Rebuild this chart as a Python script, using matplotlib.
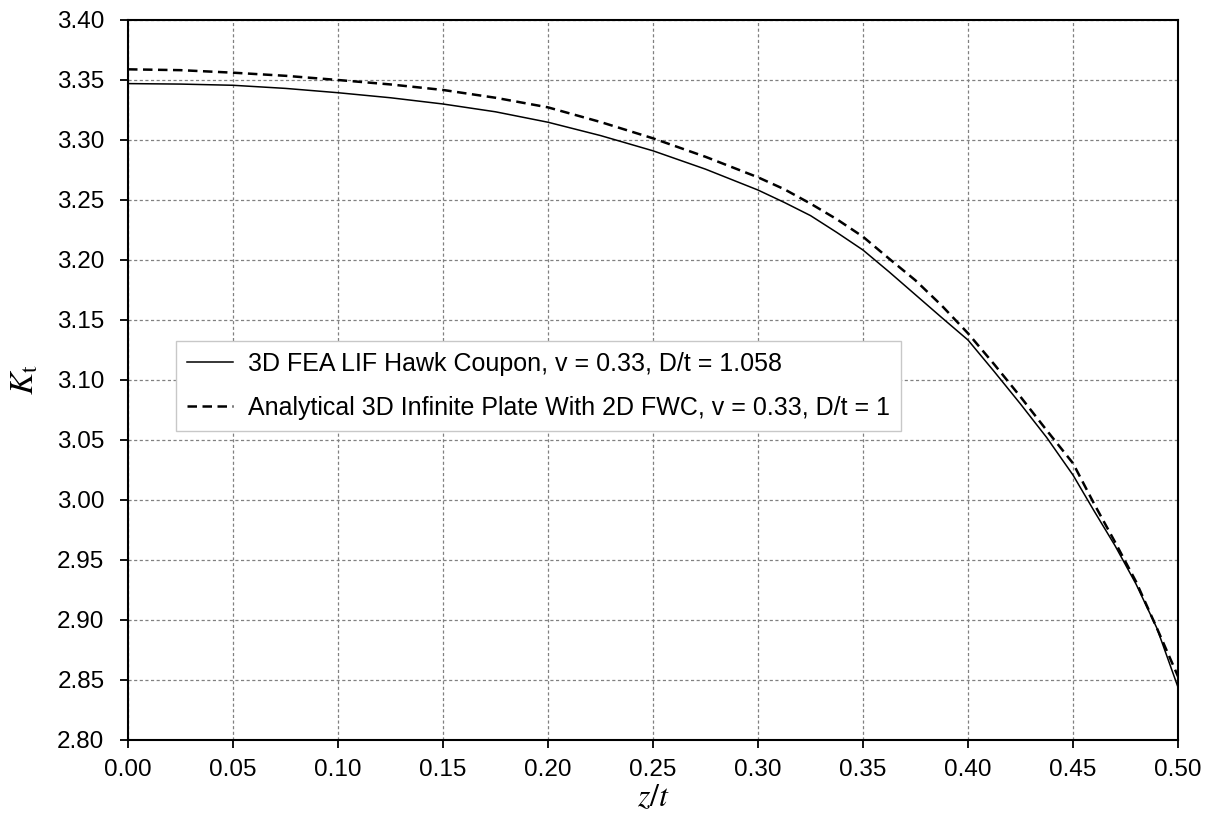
import matplotlib
matplotlib.use('Agg')
import matplotlib.pyplot as plt

plt.rcParams['font.family'] = ['Liberation Sans', 'DejaVu Sans']
plt.rcParams['mathtext.fontset'] = 'stix'

# data
z_fea = [0.0, 0.025, 0.05, 0.075, 0.10, 0.125, 0.15, 0.175, 0.20, 0.225, 0.25,
         0.275, 0.30, 0.3125, 0.325, 0.3375, 0.35, 0.3625, 0.375, 0.3875, 0.40,
         0.4125, 0.425, 0.4375, 0.45, 0.46, 0.47, 0.48, 0.49, 0.50]
kt_fea = [3.347, 3.3466, 3.3456, 3.343, 3.3394, 3.3352, 3.330, 3.3235, 3.3148,
          3.3037, 3.291, 3.2757, 3.2583, 3.248, 3.237, 3.223, 3.2083, 3.190,
          3.171, 3.152, 3.1333, 3.107, 3.080, 3.052, 3.0208, 2.991, 2.962,
          2.930, 2.893, 2.844]

z_ana = [0.0, 0.025, 0.05, 0.075, 0.10, 0.125, 0.15, 0.175, 0.20, 0.225, 0.25,
         0.275, 0.30, 0.3125, 0.325, 0.3375, 0.35, 0.3625, 0.375, 0.3875, 0.40,
         0.4125, 0.425, 0.4375, 0.45, 0.46, 0.47, 0.48, 0.49, 0.50]
kt_ana = [3.3589, 3.3582, 3.3561, 3.3535, 3.350, 3.3463, 3.3417, 3.3352, 3.3272,
          3.315, 3.3014, 3.286, 3.2689, 3.259, 3.247, 3.234, 3.2194, 3.201,
          3.183, 3.162, 3.1389, 3.113, 3.086, 3.058, 3.0306, 2.997, 2.965,
          2.932, 2.893, 2.853]

label_fea = '3D FEA LIF Hawk Coupon, v = 0.33, D/t = 1.058'
label_ana = 'Analytical 3D Infinite Plate With 2D FWC, v = 0.33, D/t = 1'

xticks = [0.00, 0.05, 0.10, 0.15, 0.20, 0.25, 0.30, 0.35, 0.40, 0.45, 0.50]
yticks = [2.80, 2.85, 2.90, 2.95, 3.00, 3.05, 3.10, 3.15, 3.20, 3.25, 3.30, 3.35, 3.40]

fig = plt.figure(figsize=(12.12, 8.23), dpi=100)
ax = fig.add_axes([128 / 1212, 83 / 823, 1050 / 1212, 720 / 823])

ax.plot(z_fea, kt_fea, color='black', lw=1.1, label=label_fea, zorder=3)
ax.plot(z_ana, kt_ana, color='black', lw=1.8, linestyle=(0, (3.8, 2.2)),
        label=label_ana, zorder=3)

ax.set_xlim(0, 0.5)
ax.set_ylim(2.80, 3.40)
ax.set_xticks(xticks)
ax.set_yticks(yticks)
ax.set_xticklabels(['%.2f' % v for v in xticks])
ax.set_yticklabels(['%.2f' % v for v in yticks])
ax.tick_params(direction='out', length=6, width=1.3, labelsize=17.5)
ax.tick_params(axis='y', pad=11)
ax.tick_params(axis='x', pad=8)

ax.grid(True, color='#808080', lw=0.9, linestyle=(0, (2.5, 2)))
for s in ax.spines.values():
    s.set_linewidth(1.5)

ax.set_xlabel(r'$z/t$', fontsize=23, labelpad=1)
ax.set_ylabel(r'$K_{\mathrm{t}}$', fontsize=24, labelpad=12)

leg = ax.legend(loc='upper left', bbox_to_anchor=(0.0454, 0.5546),
                borderaxespad=0, fontsize=18, frameon=True, fancybox=False,
                edgecolor='#c8c8c8', framealpha=1, handlelength=1.85,
                handletextpad=0.6, borderpad=0.45, labelspacing=0.8)
leg.get_frame().set_linewidth(1.0)

fig.savefig('out.png', dpi=100)
